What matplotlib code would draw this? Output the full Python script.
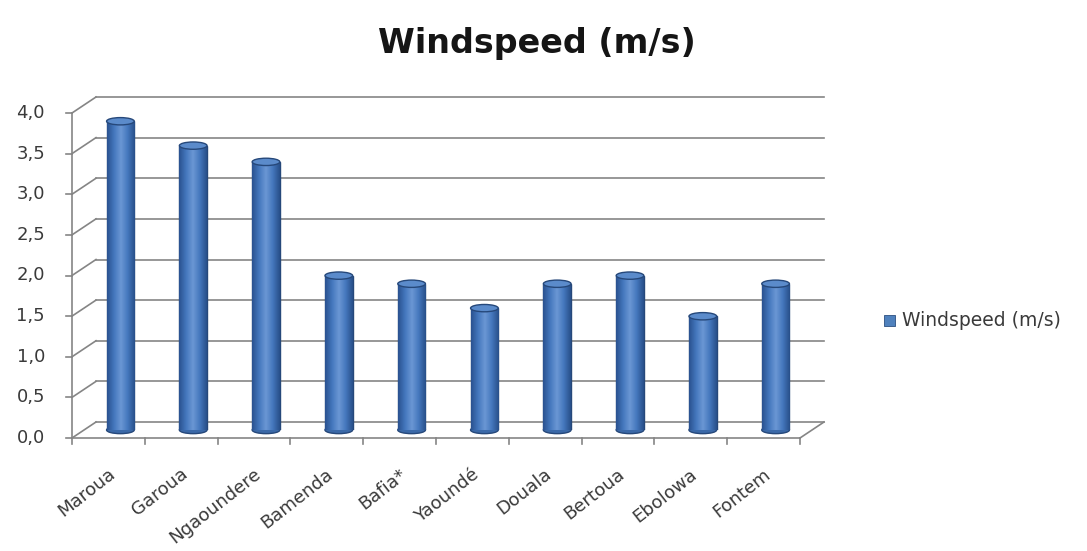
import numpy as np
import matplotlib
matplotlib.use('Agg')
import matplotlib.pyplot as plt
from matplotlib.patches import Ellipse
from matplotlib.transforms import ScaledTranslation
from matplotlib.colors import LinearSegmentedColormap

plt.rcParams['font.family'] = ['DejaVu Sans']

stations = ['Maroua', 'Garoua', 'Ngaoundere', 'Bamenda', 'Bafia*',
            'Yaoundé', 'Douala', 'Bertoua', 'Ebolowa', 'Fontem']
windspeed = [3.8, 3.5, 3.3, 1.9, 1.8, 1.5, 1.8, 1.9, 1.4, 1.8]
y_ticks = [0.0, 0.5, 1.0, 1.5, 2.0, 2.5, 3.0, 3.5, 4.0]
y_labels = ['0,0', '0,5', '1,0', '1,5', '2,0', '2,5', '3,0', '3,5', '4,0']
series_name = 'Windspeed (m/s)'

DPI = 100
W, H = 1087, 551
fig = plt.figure(figsize=(W / DPI, H / DPI), dpi=DPI)

# the data plane sits half way between the front edge and the back wall
depth_dx, depth_dy = 12.0, 8.0   # pixels
x0, x1 = 84, 812
y_bot, y_top = 430, 105
ax = fig.add_axes([x0 / W, 1 - y_bot / H, (x1 - x0) / W, (y_bot - y_top) / H])
ax.axis('off')

back = ax.transData + ScaledTranslation(depth_dx / DPI, depth_dy / DPI, fig.dpi_scale_trans)
front = ax.transData + ScaledTranslation(-depth_dx / DPI, -depth_dy / DPI, fig.dpi_scale_trans)
grid_kw = dict(color='#858585', lw=1.2, clip_on=False)
text_col = '#3a3a3a'

xl, xr = -0.5, len(stations) - 0.5
ax.set_xlim(xl, xr)
ax.set_ylim(0, 4.0)

for v in y_ticks:
    # back wall gridline
    ax.plot([xl, xr], [v, v], transform=back, **grid_kw)
    # side wall diagonal from the front axis to the back wall
    p0 = front.transform((xl, v))
    p1 = back.transform((xl, v))
    ax.plot([p0[0], p1[0]], [p0[1], p1[1]], transform=None, **grid_kw)

# floor: front edge and right side diagonal
ax.plot([xl, xr], [0, 0], transform=front, **grid_kw)
p0 = front.transform((xr, 0))
p1 = back.transform((xr, 0))
ax.plot([p0[0], p1[0]], [p0[1], p1[1]], transform=None, **grid_kw)

# front value axis with outward ticks
ax.plot([xl, xl], [0, 4.0], transform=front, **grid_kw)
for v, lab in zip(y_ticks, y_labels):
    px, py = front.transform((xl, v))
    ax.plot([px - 6, px], [py, py], transform=None, **grid_kw)
    fig.text((px - 27) / W, py / H, lab, ha='right', va='center',
             fontsize=13, color=text_col)

# category ticks and rotated labels along the front floor edge
for i in range(len(stations) + 1):
    px, py = front.transform((i - 0.5, 0))
    ax.plot([px, px], [py, py - 6], transform=None, **grid_kw)
for i, name in enumerate(stations):
    px, py = front.transform((i, 0))
    fig.text((px - 1) / W, (py - 27) / H, name, ha='right', va='top',
             rotation=38, rotation_mode='anchor', fontsize=13, color=text_col)

# cylinders: shaded bars with elliptical caps
bar_w = 0.38
cap_h = 0.09
shade = LinearSegmentedColormap.from_list(
    'cyl', ['#2a5290', '#4477bd', '#6b97d4', '#4477bd', '#28508a'])
grad = np.linspace(0, 1, 64).reshape(1, -1)
bars = ax.bar(range(len(stations)), windspeed, width=bar_w, color='#4f81bd',
              edgecolor='#26487a', lw=1.0, zorder=3)
for i, (b, v) in enumerate(zip(bars, windspeed)):
    im = ax.imshow(grad, cmap=shade, aspect='auto', zorder=3.5,
                   extent=[i - bar_w / 2, i + bar_w / 2, 0, v])
    im.set_clip_path(b)
    ax.add_patch(Ellipse((i, 0), bar_w, cap_h, facecolor='#3b69a8',
                         edgecolor='#26487a', lw=1.0, zorder=2.9, clip_on=False))
    ax.add_patch(Ellipse((i, v), bar_w, cap_h, facecolor='#5b8bcb',
                         edgecolor='#26487a', lw=1.0, zorder=4, clip_on=False))
ax.set_xlim(xl, xr)
ax.set_ylim(0, 4.0)

fig.text(537 / W, 1 - 44 / H, series_name, ha='center', va='center',
         fontsize=24, fontweight='bold', color='#151515')

# legend
fig.patches.append(plt.Rectangle((884 / W, 1 - 326 / H), 11 / W, 11 / H,
                                 transform=fig.transFigure, facecolor='#4f81bd',
                                 edgecolor='#2b4f80', lw=0.6))
fig.text(902 / W, 1 - 320 / H, series_name, ha='left', va='center',
         fontsize=13.5, color=text_col)

fig.savefig('out.png', dpi=DPI)
